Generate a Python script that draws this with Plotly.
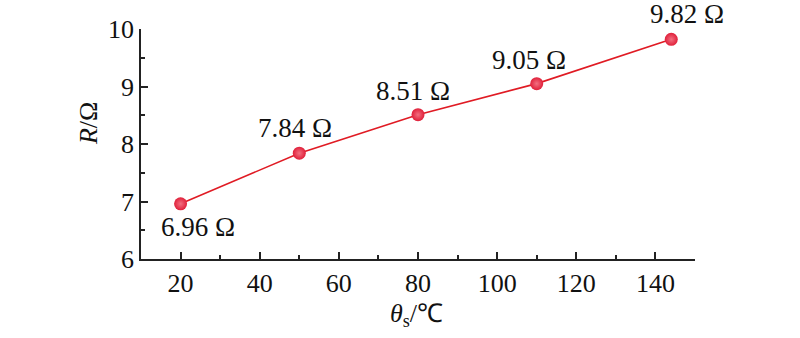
import plotly.graph_objects as go

temps = [20, 50, 80, 110, 144]
resist = [6.96, 7.84, 8.51, 9.05, 9.82]
labels = ["6.96 Ω", "7.84 Ω", "8.51 Ω", "9.05 Ω", "9.82 Ω"]
label_dx = [17, -4, -5, -8, 16]
label_dy = [-23, 25, 24, 24, 25]

x_ticks = [20, 40, 60, 80, 100, 120, 140]
y_ticks = [6, 7, 8, 9, 10]

FONT = "Liberation Serif"

fig = go.Figure()
fig.add_trace(go.Scatter(
    x=temps, y=resist, mode="lines+markers",
    line=dict(color="#e01b24", width=1.6),
    marker=dict(size=13, color="#e0203a",
                gradient=dict(type="radial", color="#f26f80"),
                line=dict(width=0)),
    showlegend=False, hoverinfo="x+y"))

for x, y, t, dx, dy in zip(temps, resist, labels, label_dx, label_dy):
    fig.add_annotation(x=x, y=y, text=t, showarrow=False, xshift=dx, yshift=dy,
                       font=dict(family=FONT, size=27, color="#111"))

axis_common = dict(showline=True, linecolor="#222", linewidth=1.6,
                   ticks="inside", ticklen=7, tickwidth=1.6, tickcolor="#222",
                   showgrid=False, zeroline=False, mirror=False,
                   tickfont=dict(family=FONT, size=26, color="#111"))

fig.update_xaxes(range=[10, 150], tickvals=x_ticks,
                 minor=dict(ticks="inside", ticklen=4, tickwidth=1.6, tickcolor="#222", dtick=10, tick0=10),
                 **axis_common)
fig.update_yaxes(range=[6, 10], tickvals=y_ticks,
                 minor=dict(ticks="inside", ticklen=4, tickwidth=1.6, tickcolor="#222", dtick=0.5, tick0=6),
                 **axis_common)

fig.add_annotation(xref="paper", yref="paper", x=0.497, y=-0.165, xanchor="center", yanchor="top",
                   text="<i>θ</i><sub>s</sub>/℃", showarrow=False,
                   font=dict(family=FONT, size=26, color="#111"))
fig.add_annotation(xref="paper", yref="paper", x=-0.096, y=0.59, xanchor="center", yanchor="middle",
                   textangle=-90, text="<i>R</i>/Ω", showarrow=False,
                   font=dict(family=FONT, size=26, color="#111"))

fig.update_layout(width=800, height=338,
                  margin=dict(l=141, r=105, t=29, b=79),
                  paper_bgcolor="white", plot_bgcolor="white")

fig.write_html("out.html", config={"displayModeBar": False},
               post_script="document.body.style.margin='0';")
